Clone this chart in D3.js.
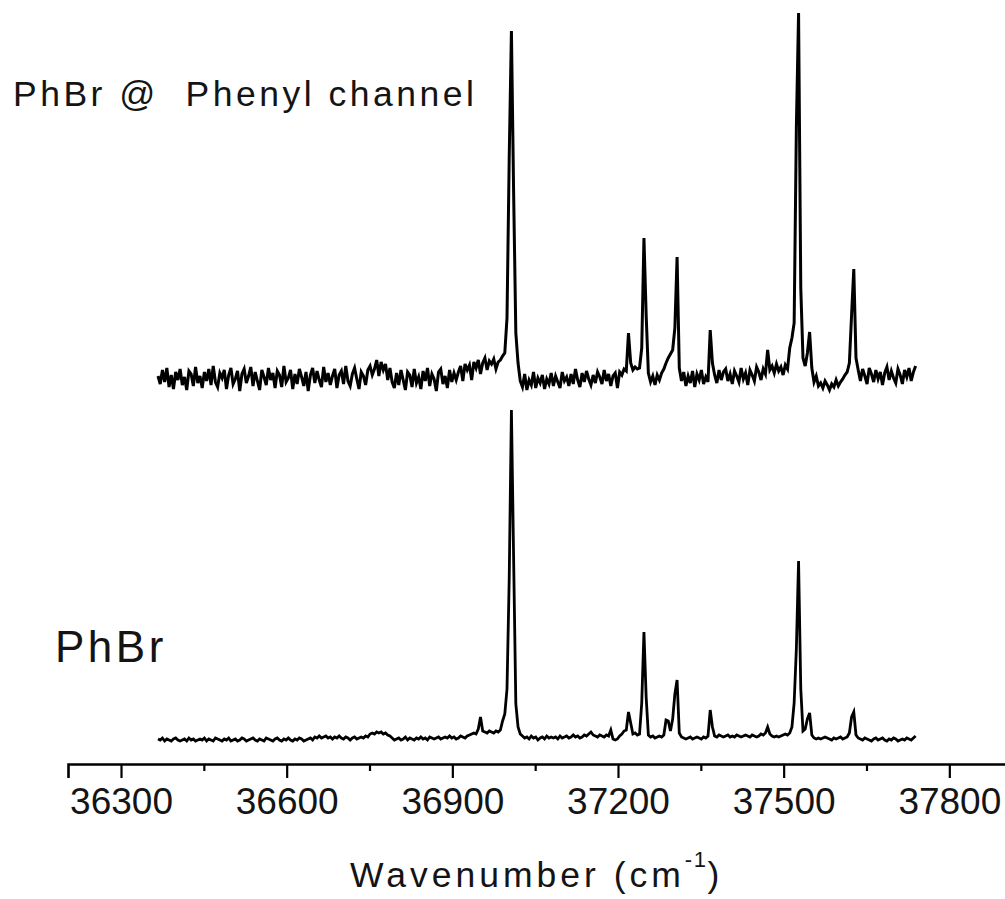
<!DOCTYPE html>
<html><head><meta charset="utf-8">
<script src="https://cdn.jsdelivr.net/npm/d3@7"></script>
<style>
body{margin:0;background:#fff}
svg{display:block}
text{font-family:"Liberation Sans",Arial,sans-serif;fill:#141414}
</style>
</head><body>
<svg id="chart" width="1005" height="899"></svg>
<script>
// spectra sampled every 4 cm-1 from 36367 cm-1
const wavenumberStart = 36367;
const wavenumberStep = 4;

// PhBr @ Phenyl channel (upper trace), arbitrary units
const upperValues = [
  2,-6,8,-4,10,-9,3,-11,6,-2,9,-7,1,-12,7,4,-8,11,-5,2,
  -10,6,-3,9,-7,12,-4,-9,5,0,8,-11,3,10,-6,-1,7,-13,4,9,
  -5,2,11,-8,6,-3,-12,8,1,-7,10,-2,5,-10,7,3,-9,12,-4,0,
  8,-11,4,-6,9,1,-8,6,-13,3,10,-5,7,-2,-9,11,-4,5,-7,2,
  9,-10,3,7,-6,12,-3,-8,4,10,-1,-11,6,2,-7,8,12,3,9,18,
  2,16,8,14,-2,10,-4,-10,5,-7,8,-2,-12,6,3,-9,9,-5,1,-11,
  7,-3,10,-8,4,-1,-13,6,9,-6,2,-10,8,-4,5,-2,6,12,-3,14,
  8,13,-2,16,10,18,4,15,20,8,17,14,19,9,16,18,22,25,60,220,
  347,185,45,15,-3,-9,4,-12,-2,-7,6,-10,0,-5,3,-11,-1,-6,5,-8,
  2,-4,-10,6,-3,1,-8,4,-6,9,-2,-9,5,-4,7,-1,-7,3,-5,6,
  1,-6,8,-3,4,-8,2,5,-10,6,3,9,7,45,15,8,11,9,10,30,
  140,63,5,-4,2,-7,3,-2,5,9,15,20,24,28,50,121,10,-3,6,-8,
  2,-5,7,-9,4,-2,8,-6,1,-4,48,15,3,-5,8,-2,6,9,-3,4,
  -6,7,2,-4,10,-1,5,-7,8,3,-3,11,6,-2,9,4,28,8,12,5,
  14,7,11,3,13,9,30,40,55,250,365,90,20,12,25,46,10,-4,2,-8,
  -5,-10,-3,-7,-12,-6,-9,-2,-8,-4,-1,3,6,15,63,109,20,8,-3,9,
  2,-6,10,4,-4,8,-1,6,-7,5,11,-2,7,0,-5,9,3,-6,8,1,
  10,-3,6,12
];

// PhBr (lower trace), arbitrary units
const lowerValues = [
  0,-1,1,-2,0,-1,-2,0,1,-1,-2,-1,0,-2,1,-1,0,-2,-1,0,
  -1,1,-2,0,-1,-2,1,0,-1,-2,0,-1,1,-2,-1,0,-2,-1,1,0,
  -2,-1,0,1,-1,-2,0,-1,-2,1,0,-1,-2,0,1,-1,-2,0,-1,1,
  -1,-2,0,-1,1,0,-2,-1,0,1,-1,2,1,3,1,2,3,1,2,0,
  2,1,3,1,0,2,1,-1,1,2,0,1,2,1,3,2,5,6,5,7,
  6,7,5,6,4,3,1,-1,0,1,-1,0,2,-1,1,0,-1,1,0,2,
  0,1,-1,2,1,0,1,2,0,1,2,1,3,1,2,0,1,3,2,1,
  3,4,5,6,5,10,22,8,7,6,8,7,6,8,7,9,18,25,50,160,
  329,180,35,12,5,3,1,2,0,3,1,2,-1,1,2,0,3,1,2,1,
  2,0,3,1,2,3,1,2,4,2,3,1,2,4,3,5,7,4,3,2,
  4,3,2,4,3,9,0,-1,0,3,5,8,9,27,16,5,6,4,5,36,
  107,42,4,2,3,1,2,3,2,4,19,18,8,20,45,59,6,2,1,0,
  1,2,0,1,2,1,0,2,1,3,29,12,3,2,4,3,2,3,4,2,
  3,2,4,3,2,3,4,3,2,4,3,2,3,5,4,6,12,5,3,2,
  3,2,3,4,5,4,6,12,36,90,178,50,8,10,20,26,4,1,0,1,
  0,1,2,1,0,-1,1,0,1,2,0,1,2,6,22,27,4,1,0,-1,
  1,0,-1,-2,0,1,-1,0,1,-1,-2,0,-1,1,0,-2,-1,0,-1,1,
  0,-1,1,3
];

const upperOffset = 361;           // vertical offset of the upper trace
const majorTicks = [36300, 36600, 36900, 37200, 37500, 37800];
const minorTicks = [36450, 36750, 37050, 37350, 37650];
const xDomain = [36204, 37905];
const yDomain = [0, 730];
const seriesLabels = ["PhBr @  Phenyl channel", "PhBr"];
const axisTitle = "Wavenumber (cm";
const axisTitleSup = "-1";

const wavenumbers = upperValues.map((_, i) => wavenumberStart + i * wavenumberStep);

const svg = d3.select("#chart");
const x = d3.scaleLinear().domain(xDomain).range([68, 1007.3]);
const y = d3.scaleLinear().domain(yDomain).range([739, 9]);

const line = d3.line().x(d => x(d[0])).y(d => y(d[1]));

const upperData = wavenumbers.map((w, i) => [w, upperValues[i] + upperOffset]);
const lowerData = wavenumbers.map((w, i) => [w, lowerValues[i]]);

svg.append("path").datum(upperData).attr("d", line)
  .attr("fill", "none").attr("stroke", "#000").attr("stroke-width", 3)
  .attr("stroke-linejoin", "miter");
svg.append("path").datum(lowerData).attr("d", line)
  .attr("fill", "none").attr("stroke", "#000").attr("stroke-width", 2.8)
  .attr("stroke-linejoin", "miter");

// axis
const axisY = 764;
const gMajor = svg.append("g").attr("transform", `translate(0,${axisY})`)
  .call(d3.axisBottom(x).tickValues(majorTicks).tickSize(14).tickFormat(d3.format("d")));
gMajor.select(".domain").attr("stroke", "#000").attr("stroke-width", 2.6);
gMajor.selectAll(".tick line").attr("stroke", "#000").attr("stroke-width", 2.2);
gMajor.selectAll(".tick text")
  .attr("y", 50).attr("dy", null)
  .style("font-size", "37px").style("font-family", '"Liberation Sans",Arial,sans-serif')
  .attr("fill", "#141414");

const gMinor = svg.append("g").attr("transform", `translate(0,${axisY})`)
  .call(d3.axisBottom(x).tickValues(minorTicks).tickSize(7).tickFormat(""));
gMinor.select(".domain").remove();
gMinor.selectAll(".tick line").attr("stroke", "#000").attr("stroke-width", 2.2);

// axis title
const t = svg.append("text").attr("x", 350).attr("y", 887)
  .style("font-size", "35.5px").style("letter-spacing", "4px");
t.append("tspan").text(axisTitle);
t.append("tspan").attr("dy", -20).style("font-size", "22px").style("letter-spacing", "1.5px").text(axisTitleSup);
t.append("tspan").attr("dy", 20).text(")");

// series labels
svg.append("text").attr("x", 13).attr("y", 106)
  .style("font-size", "35.5px").style("letter-spacing", "3.5px").style("white-space", "pre")
  .text(seriesLabels[0]);
svg.append("text").attr("x", 55).attr("y", 662)
  .style("font-size", "44px").style("letter-spacing", "3.5px")
  .text(seriesLabels[1]);
</script>
</body></html>
